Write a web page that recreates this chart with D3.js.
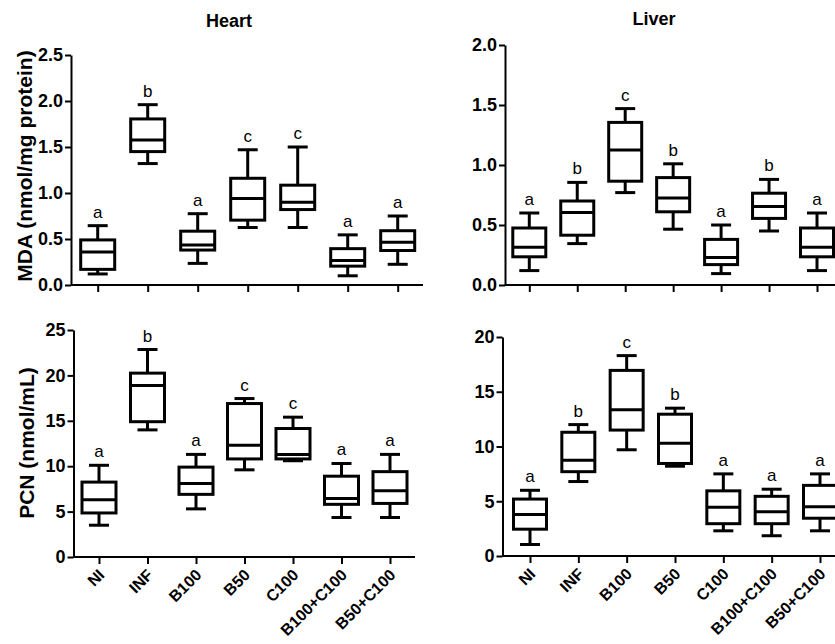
<!DOCTYPE html>
<html>
<head>
<meta charset="utf-8">
<script src="https://cdn.jsdelivr.net/npm/d3@7"></script>
<style>
  body { margin: 0; background: #fff; }
  svg text { font-family: "Liberation Sans", Arial, sans-serif; }
</style>
</head>
<body>
<script>
// groups on the x axis
var categories = ["NI", "INF", "B100", "B50", "C100", "B100+C100", "B50+C100"];

// box stats per group: [min, q1, median, q3, max]
var heartMDA = [
  [0.12, 0.17, 0.36, 0.49, 0.645],
  [1.32, 1.45, 1.575, 1.805, 1.96],
  [0.235, 0.38, 0.435, 0.585, 0.775],
  [0.625, 0.705, 0.94, 1.16, 1.47],
  [0.625, 0.82, 0.90, 1.085, 1.50],
  [0.10, 0.205, 0.265, 0.395, 0.545],
  [0.225, 0.375, 0.465, 0.59, 0.75]
];
var liverMDA = [
  [0.12, 0.235, 0.315, 0.475, 0.60],
  [0.345, 0.415, 0.605, 0.70, 0.855],
  [0.77, 0.865, 1.125, 1.355, 1.47],
  [0.465, 0.61, 0.725, 0.895, 1.01],
  [0.095, 0.17, 0.23, 0.38, 0.50],
  [0.45, 0.555, 0.655, 0.765, 0.88],
  [0.12, 0.235, 0.315, 0.475, 0.60]
];
var heartPCN = [
  [3.5, 4.85, 6.3, 8.25, 10.1],
  [14.0, 14.9, 18.9, 20.25, 22.85],
  [5.3, 6.9, 8.1, 9.9, 11.3],
  [9.6, 10.8, 12.3, 16.9, 17.45],
  [10.6, 10.8, 11.3, 14.15, 15.4],
  [4.35, 5.8, 6.45, 8.9, 10.3],
  [4.35, 5.9, 7.3, 9.4, 11.3]
];
var liverPCN = [
  [1.05, 2.45, 3.8, 5.2, 6.0],
  [6.8, 7.7, 8.75, 11.3, 12.0],
  [9.7, 11.5, 13.35, 16.95, 18.3],
  [8.2, 8.45, 10.3, 12.95, 13.5],
  [2.3, 2.95, 4.45, 5.95, 7.5],
  [1.85, 2.95, 4.05, 5.45, 6.1],
  [2.3, 3.45, 4.5, 6.45, 7.5]
];

// significance letters
var heartMDALetters = ["a", "b", "a", "c", "c", "a", "a"];
var liverMDALetters = ["a", "b", "c", "b", "a", "b", "a"];
var heartPCNLetters = ["a", "b", "a", "c", "c", "a", "a"];
var liverPCNLetters = ["a", "b", "c", "b", "a", "a", "a"];

// y axis ticks
var mdaHeartTicks = [0, 0.5, 1.0, 1.5, 2.0, 2.5];
var mdaLiverTicks = [0, 0.5, 1.0, 1.5, 2.0];
var pcnHeartTicks = [0, 5, 10, 15, 20, 25];
var pcnLiverTicks = [0, 5, 10, 15, 20];

var w = 835, h = 644;
var svg = d3.select("body").append("svg")
  .attr("width", w)
  .attr("height", h);

// panel layout
var panels = [
  { data: heartMDA, letters: heartMDALetters, ticks: mdaHeartTicks, fmt: ".1f",
    ax: 71, xFirst: 97.7, xLast: 397.7, xEnd: 423, y0: 285, y1: 55, bw: 34, labels: false },
  { data: liverMDA, letters: liverMDALetters, ticks: mdaLiverTicks, fmt: ".1f",
    ax: 505, xFirst: 529.3, xLast: 817, xEnd: 840, y0: 285, y1: 45, bw: 33, labels: false },
  { data: heartPCN, letters: heartPCNLetters, ticks: pcnHeartTicks, fmt: "d",
    ax: 73.5, xFirst: 99, xLast: 390, xEnd: 415, y0: 557, y1: 330, bw: 34, labels: true },
  { data: liverPCN, letters: liverPCNLetters, ticks: pcnLiverTicks, fmt: "d",
    ax: 502.5, xFirst: 530, xLast: 820, xEnd: 840, y0: 556, y1: 337, bw: 33, labels: true }
];

panels.forEach(function(p) {
  var ymax = p.ticks[p.ticks.length - 1];
  var y = d3.scaleLinear().domain([0, ymax]).range([p.y0, p.y1]);
  var x = d3.scalePoint().domain(categories).range([p.xFirst, p.xLast]);
  var g = svg.append("g");

  // y axis
  var ya = g.append("g")
    .attr("transform", "translate(" + p.ax + ",0)")
    .call(d3.axisLeft(y).tickValues(p.ticks).tickFormat(d3.format(p.fmt))
      .tickSize(6).tickSizeOuter(0).tickPadding(2));
  ya.select(".domain").attr("stroke-width", 2);
  ya.selectAll(".tick line").attr("stroke-width", 2);
  ya.selectAll(".tick text")
    .attr("font-size", 18).attr("font-weight", "bold").attr("fill", "#000")
    .attr("font-family", "Liberation Sans, Arial, sans-serif");

  // x axis
  var xa = g.append("g")
    .attr("transform", "translate(0," + p.y0 + ")")
    .call(d3.axisBottom(x).tickSize(7).tickFormat(p.labels ? null : ""));
  xa.select(".domain").attr("d", "M" + p.ax + ",0H" + p.xEnd).attr("stroke-width", 2);
  xa.selectAll(".tick line").attr("stroke-width", 2);
  if (p.labels) {
    xa.selectAll(".tick text")
      .attr("font-size", 16).attr("font-weight", "bold").attr("fill", "#000")
      .attr("font-family", "Liberation Sans, Arial, sans-serif")
      .attr("text-anchor", "end")
      .attr("dy", null)
      .attr("y", null)
      .attr("transform", "translate(6,19) rotate(-45)");
  } else {
    xa.selectAll(".tick text").remove();
  }

  // boxes
  var box = g.selectAll(".box")
    .data(p.data)
    .enter().append("g")
    .attr("class", "box")
    .attr("transform", function(d, i) { return "translate(" + x(categories[i]) + ",0)"; })
    .attr("stroke", "#000")
    .attr("stroke-width", 3)
    .attr("fill", "none");

  var cap = 10;
  // whiskers
  box.append("line").attr("x1", 0).attr("x2", 0)
    .attr("y1", function(d) { return y(d[3]); }).attr("y2", function(d) { return y(d[4]); });
  box.append("line").attr("x1", 0).attr("x2", 0)
    .attr("y1", function(d) { return y(d[1]); }).attr("y2", function(d) { return y(d[0]); });
  box.append("line").attr("x1", -cap).attr("x2", cap)
    .attr("y1", function(d) { return y(d[4]); }).attr("y2", function(d) { return y(d[4]); });
  box.append("line").attr("x1", -cap).attr("x2", cap)
    .attr("y1", function(d) { return y(d[0]); }).attr("y2", function(d) { return y(d[0]); });
  box.append("rect")
    .attr("x", -p.bw / 2).attr("width", p.bw)
    .attr("y", function(d) { return y(d[3]); })
    .attr("height", function(d) { return y(d[1]) - y(d[3]); });
  box.append("line").attr("x1", -p.bw / 2).attr("x2", p.bw / 2)
    .attr("y1", function(d) { return y(d[2]); }).attr("y2", function(d) { return y(d[2]); });

  // letters above whiskers
  g.selectAll(".sig")
    .data(p.letters)
    .enter().append("text")
    .attr("class", "sig")
    .attr("x", function(d, i) { return x(categories[i]); })
    .attr("y", function(d, i) { return y(p.data[i][4]) - 8; })
    .attr("text-anchor", "middle")
    .attr("font-size", 17)
    .attr("fill", "#000")
    .text(function(d) { return d; });
});

// titles
svg.append("text").attr("x", 229).attr("y", 27)
  .attr("text-anchor", "middle").attr("font-size", 18).attr("font-weight", "bold")
  .text("Heart");
svg.append("text").attr("x", 654).attr("y", 25)
  .attr("text-anchor", "middle").attr("font-size", 18).attr("font-weight", "bold")
  .text("Liver");

// y axis titles
svg.append("text")
  .attr("transform", "translate(32,166) rotate(-90)")
  .attr("text-anchor", "middle").attr("font-size", 21).attr("font-weight", "bold")
  .text("MDA (nmol/mg protein)");
svg.append("text")
  .attr("transform", "translate(34,443) rotate(-90)")
  .attr("text-anchor", "middle").attr("font-size", 21).attr("font-weight", "bold")
  .text("PCN (nmol/mL)");
</script>
</body>
</html>
